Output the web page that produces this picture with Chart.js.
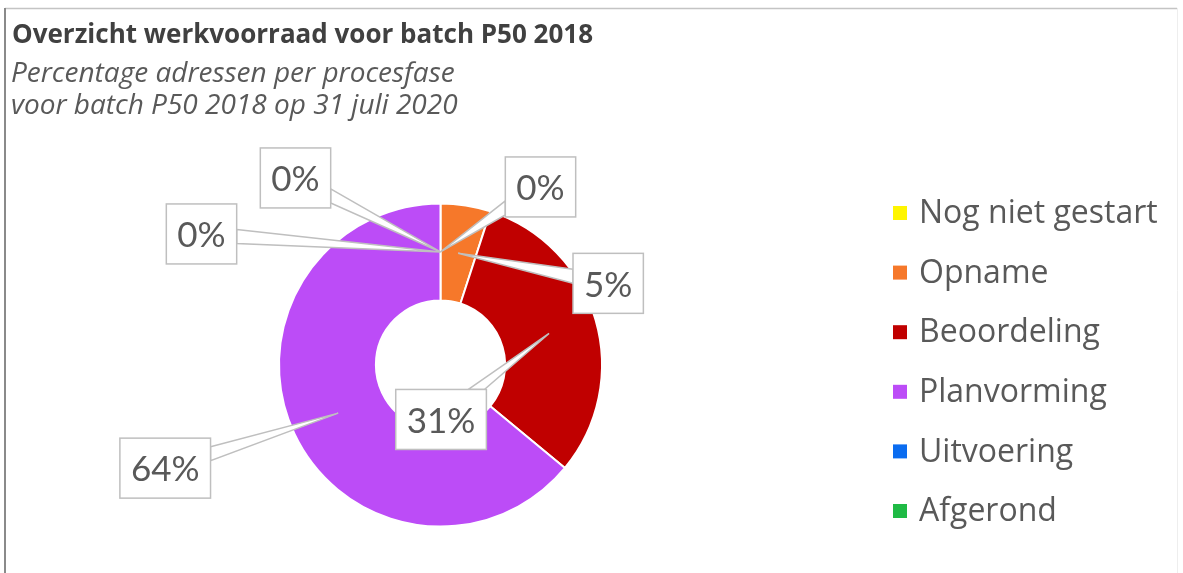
<!DOCTYPE html>
<html>
<head>
<meta charset="utf-8">
<script src="https://cdn.jsdelivr.net/npm/chart.js@4/dist/chart.umd.min.js"></script>
<style>
  body { margin: 0; background: #fff; }
  canvas { display: block; }
</style>
</head>
<body>
<canvas id="chart" width="1183" height="573"></canvas>
<script>
const categories = ['Nog niet gestart', 'Opname', 'Beoordeling', 'Planvorming', 'Uitvoering', 'Afgerond'];
const percentages = [0, 5, 31, 64, 0, 0];
const sliceColors = ['#FFF500', '#F6782A', '#C00000', '#BC4CF7', '#0A6CF0', '#1FBA45'];

const chartTitle = 'Overzicht werkvoorraad voor batch P50 2018';
const chartSubtitle = ['Percentage adressen per procesfase', 'voor batch P50 2018 op 31 juli 2020'];

// where each callout box sits, relative to its slice's anchor point
const calloutOffsets = [[100, -65], [150, 30], [-108, 86], [-173, 55], [-239, -18], [-145, -74]];

// frame, header text and legend
const decorPlugin = {
    id: 'decor',
    beforeDraw(chart) {
        const ctx = chart.ctx;
        ctx.save();
        ctx.fillStyle = '#fff';
        ctx.fillRect(0, 0, chart.width, chart.height);
        ctx.strokeStyle = '#c4c4c4';
        ctx.lineWidth = 1.5;
        ctx.beginPath();
        ctx.moveTo(5, 8.5);
        ctx.lineTo(1177, 8.5);
        ctx.stroke();
        ctx.strokeStyle = '#8a8a8a';
        ctx.lineWidth = 2;
        ctx.beginPath();
        ctx.moveTo(5, 8);
        ctx.lineTo(5, chart.height);
        ctx.stroke();
        ctx.strokeStyle = '#eeeeee';
        ctx.lineWidth = 1;
        ctx.beginPath();
        ctx.moveTo(1177.5, 8);
        ctx.lineTo(1177.5, chart.height);
        ctx.stroke();

        ctx.textAlign = 'left';
        ctx.textBaseline = 'alphabetic';
        ctx.fillStyle = '#404040';
        ctx.font = 'bold 26px "Open Sans"';
        ctx.fillText(chartTitle, 12, 43);
        ctx.fillStyle = '#595959';
        ctx.font = 'italic 28px "Open Sans"';
        chartSubtitle.forEach((line, i) => ctx.fillText(line, 11, 82 + i * 32));

        ctx.font = '32px "Open Sans"';
        ctx.textBaseline = 'middle';
        categories.forEach((cat, i) => {
            const y = 213 + i * 59.6;
            ctx.fillStyle = sliceColors[i];
            ctx.fillRect(893, y - 7, 14, 14);
            ctx.fillStyle = '#595959';
            ctx.fillText(cat, 919, y + 1);
        });
        ctx.restore();
    }
};

function drawCallout(ctx, ax, ay, cx, cy, text) {
    const w = ctx.measureText(text).width + 22;
    const h = 60;
    const left = cx - w / 2, top = cy - h / 2;
    const dx = ax - cx, dy = ay - cy;
    let p1, p2;
    if (Math.abs(dx) * h > Math.abs(dy) * w) {
        const ex = cx + Math.sign(dx) * w / 2;
        let ey = cy + dy * (w / 2) / Math.abs(dx);
        ey = Math.min(Math.max(ey, top + 9), top + h - 9);
        p1 = [ex, ey - 7];
        p2 = [ex, ey + 7];
    } else {
        const ey = cy + Math.sign(dy) * h / 2;
        let ex = cx + dx * (h / 2) / Math.abs(dy);
        ex = Math.min(Math.max(ex, left + 10), left + w - 10);
        p1 = [ex - 8, ey];
        p2 = [ex + 8, ey];
    }
    ctx.fillStyle = '#fff';
    ctx.strokeStyle = '#bfbfbf';
    ctx.lineWidth = 1.5;
    ctx.beginPath();
    ctx.moveTo(p1[0], p1[1]);
    ctx.lineTo(ax, ay);
    ctx.lineTo(p2[0], p2[1]);
    ctx.closePath();
    ctx.fill();
    ctx.stroke();
    ctx.fillRect(left, top, w, h);
    ctx.strokeRect(left, top, w, h);
    ctx.fillStyle = '#595959';
    ctx.fillText(text, cx, cy + 2);
}

const calloutPlugin = {
    id: 'callouts',
    afterDatasetsDraw(chart) {
        const ctx = chart.ctx;
        const arcs = chart.getDatasetMeta(0).data;
        ctx.save();
        ctx.font = '35px Lato';
        ctx.textAlign = 'center';
        ctx.textBaseline = 'middle';
        arcs.forEach((arc, i) => {
            const p = arc.getProps(['x', 'y', 'startAngle', 'endAngle', 'innerRadius', 'outerRadius'], true);
            const mid = (p.startAngle + p.endAngle) / 2;
            const r = (p.innerRadius + p.outerRadius) / 2;
            const ax = p.x + Math.cos(mid) * r;
            const ay = p.y + Math.sin(mid) * r;
            const off = calloutOffsets[i];
            drawCallout(ctx, ax, ay, ax + off[0], ay + off[1], percentages[i] + '%');
        });
        ctx.restore();
    }
};

const ctx = document.getElementById('chart').getContext('2d');
const chart = new Chart(ctx, {
    type: 'doughnut',
    data: {
        labels: categories,
        datasets: [{
            data: percentages,
            backgroundColor: sliceColors,
            borderColor: '#ffffff',
            borderWidth: 2
        }]
    },
    options: {
        responsive: false,
        animation: false,
        cutout: '40%',
        layout: {
            padding: { left: 278, right: 580, top: 202, bottom: 45 }
        },
        plugins: {
            legend: { display: false },
            title: { display: false },
            tooltip: { enabled: false }
        }
    },
    plugins: [decorPlugin, calloutPlugin]
});
</script>
</body>
</html>
